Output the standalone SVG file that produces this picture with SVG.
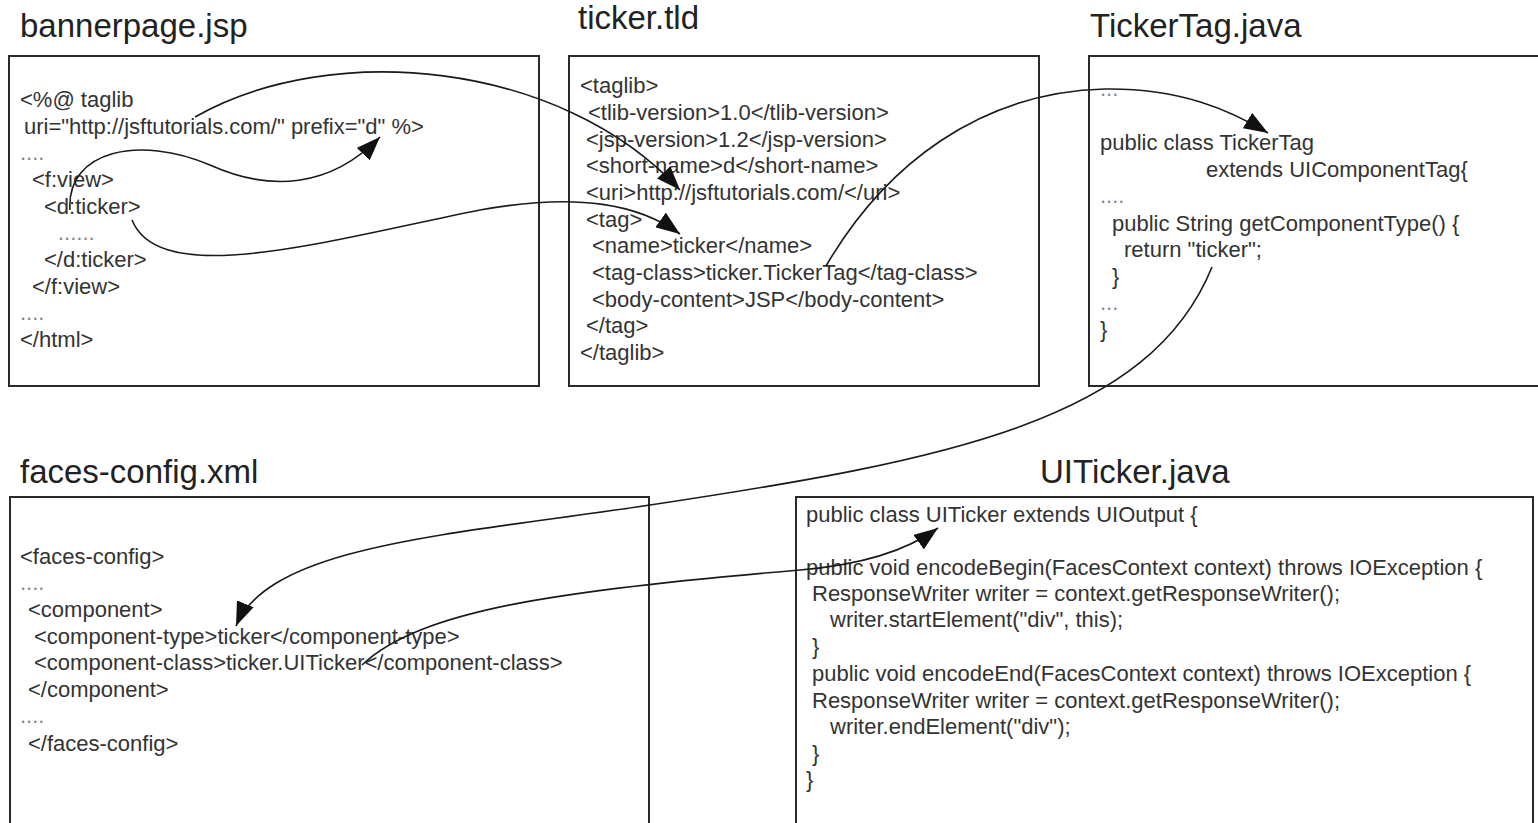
<svg xmlns="http://www.w3.org/2000/svg" width="1538" height="823" viewBox="0 0 1538 823">
<style>
.box{fill:#fff;stroke:#2a2a2a;stroke-width:2}
.title{font-family:"Liberation Sans",Arial,sans-serif;font-size:33px;fill:#222}
.code{font-family:"Liberation Sans",Arial,sans-serif;font-size:22px;fill:#333;white-space:pre}
.dots{fill:#888}
.conn{fill:none;stroke:#1a1a1a;stroke-width:1.6}
</style>
<defs>
<marker id="ah" markerUnits="userSpaceOnUse" markerWidth="26" markerHeight="18" refX="24" refY="9" orient="auto">
<path d="M0,0 L24,9 L0,18 z" fill="#111"/>
</marker>
</defs>
<rect width="1538" height="823" fill="#fff"/>

<g id="bannerpage">
<text class="title" x="20" y="37">bannerpage.jsp</text>
<rect class="box" x="9" y="56" width="530" height="330"/>
<text class="code" x="20" y="107">&lt;%@ taglib</text>
<text class="code" x="24" y="134">uri="http://jsftutorials.com/" prefix="d" %&gt;</text>
<text class="code dots" x="20" y="160">....</text>
<text class="code" x="32" y="187">&lt;f:view&gt;</text>
<text class="code" x="44" y="214">&lt;d:ticker&gt;</text>
<text class="code dots" x="58" y="240">......</text>
<text class="code" x="44" y="267">&lt;/d:ticker&gt;</text>
<text class="code" x="32" y="294">&lt;/f:view&gt;</text>
<text class="code dots" x="20" y="320">....</text>
<text class="code" x="20" y="347">&lt;/html&gt;</text>
</g>

<g id="tickertld">
<text class="title" x="578" y="29">ticker.tld</text>
<rect class="box" x="569" y="56" width="470" height="330"/>
<text class="code" x="580" y="93">&lt;taglib&gt;</text>
<text class="code" x="588" y="120">&lt;tlib-version&gt;1.0&lt;/tlib-version&gt;</text>
<text class="code" x="586" y="147">&lt;jsp-version&gt;1.2&lt;/jsp-version&gt;</text>
<text class="code" x="586" y="173">&lt;short-name&gt;d&lt;/short-name&gt;</text>
<text class="code" x="586" y="200">&lt;uri&gt;http://jsftutorials.com/&lt;/uri&gt;</text>
<text class="code" x="586" y="227">&lt;tag&gt;</text>
<text class="code" x="592" y="253">&lt;name&gt;ticker&lt;/name&gt;</text>
<text class="code" x="592" y="280">&lt;tag-class&gt;ticker.TickerTag&lt;/tag-class&gt;</text>
<text class="code" x="592" y="307">&lt;body-content&gt;JSP&lt;/body-content&gt;</text>
<text class="code" x="586" y="333">&lt;/tag&gt;</text>
<text class="code" x="580" y="360">&lt;/taglib&gt;</text>
</g>

<g id="tickertag">
<text class="title" x="1090" y="37">TickerTag.java</text>
<rect class="box" x="1089" y="56" width="460" height="330"/>
<text class="code dots" x="1100" y="96">...</text>
<text class="code" x="1100" y="150">public class TickerTag</text>
<text class="code" x="1206" y="177">extends UIComponentTag{</text>
<text class="code dots" x="1100" y="203">....</text>
<text class="code" x="1112" y="231">public String getComponentType() {</text>
<text class="code" x="1124" y="257">return "ticker";</text>
<text class="code" x="1112" y="284">}</text>
<text class="code dots" x="1100" y="310">...</text>
<text class="code" x="1100" y="337">}</text>
</g>

<g id="facesconfig">
<text class="title" x="20" y="483">faces-config.xml</text>
<rect class="box" x="10" y="497" width="639" height="340"/>
<text class="code" x="20" y="564">&lt;faces-config&gt;</text>
<text class="code dots" x="20" y="590">....</text>
<text class="code" x="28" y="617">&lt;component&gt;</text>
<text class="code" x="34" y="644">&lt;component-type&gt;ticker&lt;/component-type&gt;</text>
<text class="code" x="34" y="670">&lt;component-class&gt;ticker.UITicker&lt;/component-class&gt;</text>
<text class="code" x="28" y="697">&lt;/component&gt;</text>
<text class="code dots" x="20" y="723">....</text>
<text class="code" x="28" y="751">&lt;/faces-config&gt;</text>
</g>

<g id="uiticker">
<text class="title" x="1040" y="483">UITicker.java</text>
<rect class="box" x="796" y="497" width="737" height="340"/>
<text class="code" x="806" y="522">public class UITicker extends UIOutput {</text>
<text class="code" x="806" y="575">public void encodeBegin(FacesContext context) throws IOException {</text>
<text class="code" x="812" y="601">ResponseWriter writer = context.getResponseWriter();</text>
<text class="code" x="830" y="627">writer.startElement("div", this);</text>
<text class="code" x="812" y="654">}</text>
<text class="code" x="812" y="681">public void encodeEnd(FacesContext context) throws IOException {</text>
<text class="code" x="812" y="708">ResponseWriter writer = context.getResponseWriter();</text>
<text class="code" x="830" y="734">writer.endElement("div");</text>
<text class="code" x="812" y="761">}</text>
<text class="code" x="806" y="787">}</text>
</g>

<g id="connectors">
<path class="conn" marker-end="url(#ah)" d="M70,210 C66,150 140,135 210,165 C270,192 330,188 380,137"/>
<path class="conn" marker-end="url(#ah)" d="M195,117 C330,40 560,60 680,190"/>
<path class="conn" marker-end="url(#ah)" d="M132,220 C160,290 330,240 480,210 C580,192 640,205 680,234"/>
<path class="conn" marker-end="url(#ah)" d="M826,266 C885,165 980,92 1105,89 C1180,88 1230,110 1268,133"/>
<path class="conn" marker-end="url(#ah)" d="M1212,267 C1150,420 950,460 650,505 C450,535 270,545 236,626"/>
<path class="conn" marker-end="url(#ah)" d="M362,665 C420,610 560,590 800,570 C860,565 905,552 938,528"/>
</g>
</svg>
